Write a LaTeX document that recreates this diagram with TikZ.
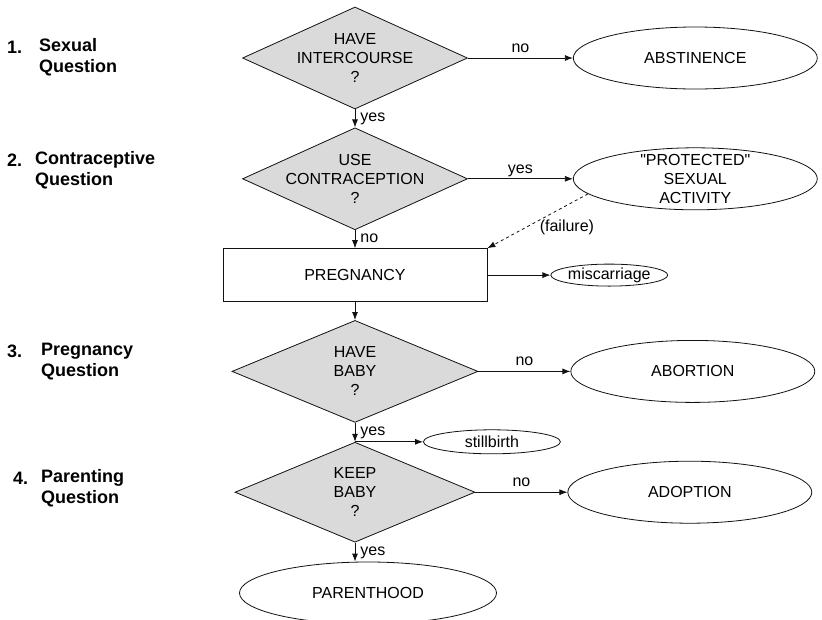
\documentclass[tikz,border=0pt]{standalone}
\usepackage{fontspec}
\setmainfont{Liberation Sans}[Ligatures=TeXOff]
\definecolor{ink}{HTML}{111111}
\definecolor{shade}{HTML}{DADADA}
\usetikzlibrary{arrows.meta,shapes.geometric,positioning}
\tikzset{
  node_dec/.style={diamond,draw=ink,fill=shade,line width=0.8pt,aspect=2.2,
    minimum width=225pt,minimum height=102pt,inner xsep=-20pt,inner ysep=0pt,
    font=\fontsize{16}{19}\selectfont,align=center},
  node_step/.style={rectangle,draw=ink,line width=0.8pt,
    minimum width=264pt,minimum height=53pt,font=\fontsize{16}{19}\selectfont},
  node_end/.style={ellipse,draw=ink,line width=0.8pt,minimum width=244pt,minimum height=62pt,
    inner xsep=0pt,inner ysep=-6pt,font=\fontsize{16}{19}\selectfont,align=center},
  node_small/.style={ellipse,draw=ink,line width=0.8pt,minimum height=22pt,
    inner sep=0pt,font=\fontsize{16}{19}\selectfont},
  node_side/.style={font=\fontsize{18}{21}\selectfont\bfseries,align=left,anchor=west,inner sep=0pt},
  lbl/.style={font=\fontsize{16}{19}\selectfont,inner sep=1pt,text height=1.5ex,text depth=.25ex},
  arr/.style={-{Latex[length=8pt,width=6pt]},draw=ink,line width=0.8pt},
  arr_d/.style={arr,dashed},
}
\begin{document}
\begin{tikzpicture}[x=1pt,y=-1pt,node distance=18pt]
      \useasboundingbox (0,0) rectangle (822,619);
      % question labels on the left
      \node[node_side] (n1) at (7,47) {1.};
      \node[node_side] (q1) at (39,57.5) {Sexual\\Question};
      \node[node_side] (n2) at (7,160) {2.};
      \node[node_side] (q2) at (35,170.5) {Contraceptive\\Question};
      \node[node_side] (n3) at (7,351) {3.};
      \node[node_side] (q3) at (41,361.5) {Pregnancy\\Question};
      \node[node_side] (n4) at (13,478) {4.};
      \node[node_side] (q4) at (41,488.5) {Parenting\\Question};
      % main column
      \node[node_dec] (d1) at (355,58) {HAVE\\INTERCOURSE\\?};
      \node[node_dec,below=of d1] (d2) {USE\\CONTRACEPTION\\?};
      \node[node_step,below=of d2] (preg) {PREGNANCY};
      \node[node_dec,minimum width=246pt,below=of preg] (d3) {HAVE\\BABY\\?};
      \node[node_dec,minimum width=240pt,minimum height=100pt,below=19pt of d3] (d4) {KEEP\\BABY\\?};
      \node[node_end,minimum width=257pt,below=19pt of d4,xshift=13pt] (par) {PARENTHOOD};
      % outcomes on the right
      \node[node_end,right=105pt of d1] (abst) {ABSTINENCE};
      \node[node_end,right=105pt of d2] (prot) {"PROTECTED"\\SEXUAL\\ACTIVITY};
      \node[node_small,minimum width=105pt,right=63pt of preg] (misc) {miscarriage};
      \node[node_end,right=92pt of d3] (abor) {ABORTION};
      \node[node_small,minimum width=137pt,minimum height=24pt,right=68pt of d4.north] (still) {stillbirth};
      \node[node_end,right=92pt of d4] (adop) {ADOPTION};
      % connectors
      \draw[arr] (d1) -- node[lbl,right=4pt]{yes} (d2);
      \draw[arr] (d1) -- node[lbl,above=3pt]{no} (abst);
      \draw[arr] (d2) -- node[lbl,right=4pt]{no} (preg);
      \draw[arr] (d2) -- node[lbl,above=3pt]{yes} (prot);
      \draw[arr_d] (prot.188) -- node[lbl,pos=0.5,below right=1pt]{(failure)} (preg.north east);
      \draw[arr] (preg) -- (misc);
      \draw[arr] (preg) -- (d3);
      \draw[arr] (d3) -- node[lbl,above=3pt]{no} (abor);
      \draw[arr] (d3) -- node[lbl,right=4pt]{yes} (d4);
      \draw[arr] (d4.north) -- (still);
      \draw[arr] (d4) -- node[lbl,above=3pt]{no} (adop);
      \draw[arr] (d4.south) -- node[lbl,right=4pt]{yes} (d4.south |- par.north);
    \end{tikzpicture}
\end{document}
